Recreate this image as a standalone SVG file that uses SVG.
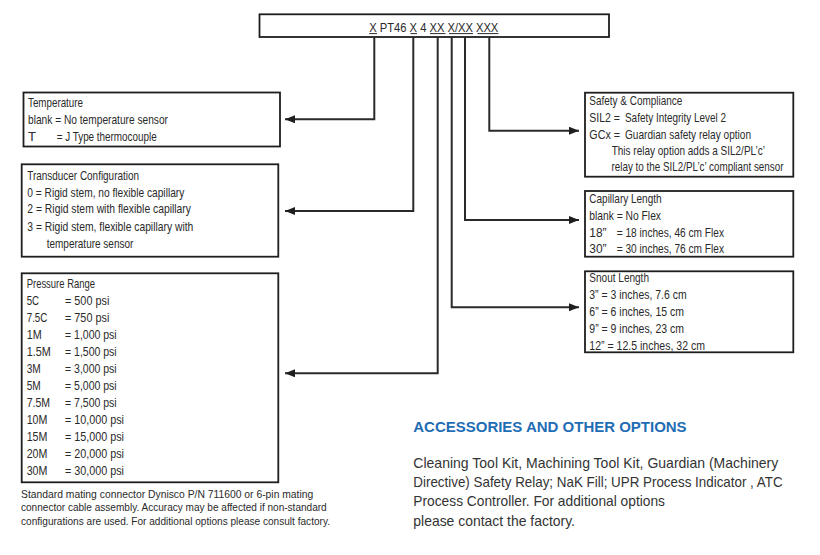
<svg xmlns="http://www.w3.org/2000/svg" width="820" height="555" viewBox="0 0 820 555">
<style>
.box{fill:#fff;stroke:#1e1e1e;stroke-width:1.8}
.t{font-family:"Liberation Sans Narrow","Liberation Sans",Arial,sans-serif;font-size:13px;fill:#2a2a2a}
.f{font-family:"Liberation Sans Narrow","Liberation Sans",Arial,sans-serif;font-size:11.5px;fill:#2a2a2a}
.h{font-family:"Liberation Sans",Arial,sans-serif;font-size:15.5px;font-weight:bold;fill:#1f6db5}
.p{font-family:"Liberation Sans",Arial,sans-serif;font-size:14.5px;fill:#333}
.con{fill:none;stroke:#2a2a2a;stroke-width:2}
.ul{stroke:#2a2a2a;stroke-width:1}
</style>
<defs>
<marker id="arr" markerUnits="userSpaceOnUse" markerWidth="11" markerHeight="9" refX="10" refY="4" orient="auto">
<path d="M0,0 L10,4 L0,8 z" fill="#1e1e1e"/>
</marker>
</defs>
<rect width="820" height="555" fill="#fff"/>

<g id="model-code">
<rect class="box" x="259.5" y="14.3" width="349.5" height="22.7"/>
<text class="t" x="369.3" y="31.5" textLength="129" lengthAdjust="spacingAndGlyphs">X PT46 X 4 XX X/XX XXX</text>
<line class="ul" x1="369.3" y1="33.6" x2="377" y2="33.6"/>
<line class="ul" x1="410.5" y1="33.6" x2="417" y2="33.6"/>
<line class="ul" x1="430" y1="33.6" x2="445.5" y2="33.6"/>
<line class="ul" x1="449" y1="33.6" x2="473" y2="33.6"/>
<line class="ul" x1="477.5" y1="33.6" x2="498.5" y2="33.6"/>
</g>

<g id="connectors">
<path class="con" d="M374.3,37 V119.3 H285" marker-end="url(#arr)"/>
<path class="con" d="M413.3,37 V211 H285" marker-end="url(#arr)"/>
<path class="con" d="M437.7,37 V373.3 H285" marker-end="url(#arr)"/>
<path class="con" d="M451.7,37 V307.3 H579" marker-end="url(#arr)"/>
<path class="con" d="M465,37 V220 H579" marker-end="url(#arr)"/>
<path class="con" d="M489.3,37 V130.7 H579" marker-end="url(#arr)"/>
</g>

<g id="temperature">
<rect class="box" x="23.5" y="92.5" width="256.5" height="54"/>
<text class="t" x="28" y="106.7" textLength="55" lengthAdjust="spacingAndGlyphs">Temperature</text>
<text class="t" x="28" y="124" textLength="140" lengthAdjust="spacingAndGlyphs">blank = No temperature sensor</text>
<text class="t" x="28" y="141">T</text>
<text class="t" x="56.7" y="141" textLength="100" lengthAdjust="spacingAndGlyphs">= J Type thermocouple</text>
</g>

<g id="transducer">
<rect class="box" x="21.7" y="164.3" width="256.6" height="92.4"/>
<text class="t" x="27.3" y="180" textLength="111.7" lengthAdjust="spacingAndGlyphs">Transducer Configuration</text>
<text class="t" x="27.3" y="196.7" textLength="157" lengthAdjust="spacingAndGlyphs">0 = Rigid stem, no flexible capillary</text>
<text class="t" x="27.3" y="213.3" textLength="163.7" lengthAdjust="spacingAndGlyphs">2 = Rigid stem with flexible capillary</text>
<text class="t" x="27.3" y="230.7" textLength="166" lengthAdjust="spacingAndGlyphs">3 = Rigid stem, flexible capillary with</text>
<text class="t" x="46.7" y="247.7" textLength="86.7" lengthAdjust="spacingAndGlyphs">temperature sensor</text>
</g>

<g id="pressure">
<rect class="box" x="21.7" y="273.3" width="256.6" height="209"/>
<text class="t" x="26.7" y="288.3" textLength="68.3" lengthAdjust="spacingAndGlyphs">Pressure Range</text>
<text class="t" x="26.7" y="305" textLength="12.3" lengthAdjust="spacingAndGlyphs">5C</text>
<text class="t" x="65" y="305" textLength="44.3" lengthAdjust="spacingAndGlyphs">= 500 psi</text>
<text class="t" x="26.7" y="322" textLength="20.7" lengthAdjust="spacingAndGlyphs">7.5C</text>
<text class="t" x="65" y="322" textLength="44.3" lengthAdjust="spacingAndGlyphs">= 750 psi</text>
<text class="t" x="26.7" y="339" textLength="15" lengthAdjust="spacingAndGlyphs">1M</text>
<text class="t" x="65" y="339" textLength="51.7" lengthAdjust="spacingAndGlyphs">= 1,000 psi</text>
<text class="t" x="26.7" y="356" textLength="24" lengthAdjust="spacingAndGlyphs">1.5M</text>
<text class="t" x="65" y="356" textLength="51.7" lengthAdjust="spacingAndGlyphs">= 1,500 psi</text>
<text class="t" x="26.7" y="373" textLength="14" lengthAdjust="spacingAndGlyphs">3M</text>
<text class="t" x="65" y="373" textLength="51.7" lengthAdjust="spacingAndGlyphs">= 3,000 psi</text>
<text class="t" x="26.7" y="390" textLength="14" lengthAdjust="spacingAndGlyphs">5M</text>
<text class="t" x="65" y="390" textLength="51.7" lengthAdjust="spacingAndGlyphs">= 5,000 psi</text>
<text class="t" x="26.7" y="407" textLength="23.3" lengthAdjust="spacingAndGlyphs">7.5M</text>
<text class="t" x="65" y="407" textLength="51.7" lengthAdjust="spacingAndGlyphs">= 7,500 psi</text>
<text class="t" x="26.7" y="424" textLength="20.7" lengthAdjust="spacingAndGlyphs">10M</text>
<text class="t" x="65" y="424" textLength="59" lengthAdjust="spacingAndGlyphs">= 10,000 psi</text>
<text class="t" x="26.7" y="441" textLength="20.7" lengthAdjust="spacingAndGlyphs">15M</text>
<text class="t" x="65" y="441" textLength="59" lengthAdjust="spacingAndGlyphs">= 15,000 psi</text>
<text class="t" x="26.7" y="458" textLength="20.7" lengthAdjust="spacingAndGlyphs">20M</text>
<text class="t" x="65" y="458" textLength="59" lengthAdjust="spacingAndGlyphs">= 20,000 psi</text>
<text class="t" x="26.7" y="475" textLength="20.7" lengthAdjust="spacingAndGlyphs">30M</text>
<text class="t" x="65" y="475" textLength="59" lengthAdjust="spacingAndGlyphs">= 30,000 psi</text>
</g>

<g id="footnote">
<text class="f" x="21" y="497.7" textLength="292.3" lengthAdjust="spacingAndGlyphs">Standard mating connector Dynisco P/N 711600 or 6-pin mating</text>
<text class="f" x="21" y="511.3" textLength="305.7" lengthAdjust="spacingAndGlyphs">connector cable assembly. Accuracy may be affected if non-standard</text>
<text class="f" x="21" y="525" textLength="309" lengthAdjust="spacingAndGlyphs">configurations are used. For additional options please consult factory.</text>
</g>

<g id="safety">
<rect class="box" x="585" y="92.7" width="208.3" height="84"/>
<text class="t" x="589.3" y="105" textLength="93" lengthAdjust="spacingAndGlyphs">Safety &amp; Compliance</text>
<text class="t" x="589.3" y="122.3" textLength="30.7" lengthAdjust="spacingAndGlyphs">SIL2 =</text>
<text class="t" x="625" y="122.3" textLength="101" lengthAdjust="spacingAndGlyphs">Safety Integrity Level 2</text>
<text class="t" x="589.3" y="139" textLength="30.7" lengthAdjust="spacingAndGlyphs">GCx =</text>
<text class="t" x="625" y="139" textLength="126" lengthAdjust="spacingAndGlyphs">Guardian safety relay option</text>
<text class="t" x="611.7" y="155.3" textLength="153.3" lengthAdjust="spacingAndGlyphs">This relay option adds a SIL2/PL’c’</text>
<text class="t" x="611.5" y="171" font-size="11" textLength="172" lengthAdjust="spacingAndGlyphs">relay to the SIL2/PL’c’ compliant sensor</text>
</g>

<g id="capillary">
<rect class="box" x="585" y="191" width="208.3" height="65.7"/>
<text class="t" x="589.3" y="203.3" textLength="72.3" lengthAdjust="spacingAndGlyphs">Capillary Length</text>
<text class="t" x="589.3" y="220" textLength="71.7" lengthAdjust="spacingAndGlyphs">blank = No Flex</text>
<text class="t" x="589.3" y="236.7" textLength="17.3" lengthAdjust="spacingAndGlyphs">18”</text>
<text class="t" x="616.7" y="236.7" textLength="107.3" lengthAdjust="spacingAndGlyphs">= 18 inches, 46 cm Flex</text>
<text class="t" x="589.3" y="253.3" textLength="17.3" lengthAdjust="spacingAndGlyphs">30”</text>
<text class="t" x="616.7" y="253.3" textLength="107.3" lengthAdjust="spacingAndGlyphs">= 30 inches, 76 cm Flex</text>
</g>

<g id="snout">
<rect class="box" x="585" y="271.3" width="208.3" height="81"/>
<text class="t" x="589.3" y="281.7" textLength="59.7" lengthAdjust="spacingAndGlyphs">Snout Length</text>
<text class="t" x="589.3" y="299.3" textLength="97.3" lengthAdjust="spacingAndGlyphs">3” = 3 inches, 7.6 cm</text>
<text class="t" x="589.3" y="316" textLength="94.7" lengthAdjust="spacingAndGlyphs">6” = 6 inches, 15 cm</text>
<text class="t" x="589.3" y="332.7" textLength="94.7" lengthAdjust="spacingAndGlyphs">9” = 9 inches, 23 cm</text>
<text class="t" x="589.3" y="350" textLength="115.7" lengthAdjust="spacingAndGlyphs">12” = 12.5 inches, 32 cm</text>
</g>

<g id="accessories">
<text class="h" x="413.3" y="431.7" textLength="273.3" lengthAdjust="spacingAndGlyphs">ACCESSORIES AND OTHER OPTIONS</text>
<text class="p" x="413.3" y="468" textLength="365" lengthAdjust="spacingAndGlyphs">Cleaning Tool Kit, Machining Tool Kit, Guardian (Machinery</text>
<text class="p" x="413.3" y="487.2" textLength="369.3" lengthAdjust="spacingAndGlyphs">Directive) Safety Relay; NaK Fill; UPR Process Indicator , ATC</text>
<text class="p" x="413.3" y="506.4" textLength="251.7" lengthAdjust="spacingAndGlyphs">Process Controller. For additional options</text>
<text class="p" x="413.3" y="525.6" textLength="161.7" lengthAdjust="spacingAndGlyphs">please contact the factory.</text>
</g>
</svg>
